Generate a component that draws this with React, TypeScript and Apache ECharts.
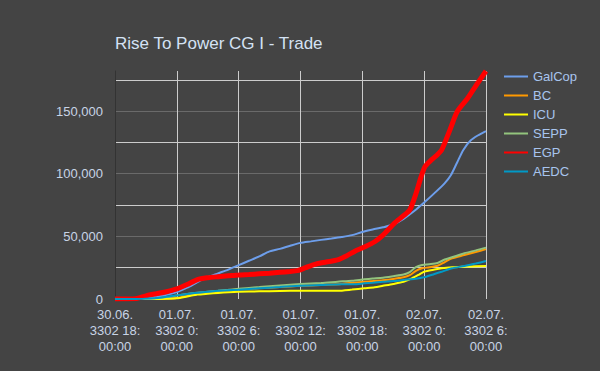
import React, { useEffect, useRef } from "react";
import * as echarts from "echarts";

const title = "Rise To Power CG I - Trade";
// x in hours since 30.06. 3302 18:00:00
const xTickLabels = [
  "30.06.\n3302 18:\n00:00",
  "01.07.\n3302 0:\n00:00",
  "01.07.\n3302 6:\n00:00",
  "01.07.\n3302 12:\n00:00",
  "01.07.\n3302 18:\n00:00",
  "02.07.\n3302 0:\n00:00",
  "02.07.\n3302 6:\n00:00",
];
const seriesNames = ["GalCop", "BC", "ICU", "SEPP", "EGP", "AEDC"];
const seriesColors = ["#6d9eeb", "#ff9900", "#ffff00", "#93c47d", "#ff0000", "#0099c6"];
const seriesWidths = [2, 2, 2, 2, 5, 2];

const galcop = [[0,0],[2,0],[3,700],[4,1800],[5,3300],[6,5500],[7,9000],[8,13500],[9,17500],[10,20500],[11,23500],[12,27000],[13,30500],[14,34000],[15,38000],[16,40000],[17,42500],[18,44800],[19,46000],[20,47200],[21,48300],[22,49500],[23,51000],[24,53500],[25,55500],[26,57200],[27,59500],[28,64000],[29,70000],[30,77000],[31,84500],[32,92500],[32.6,99000],[33.2,109000],[33.8,119000],[34.5,126500],[35.2,130500],[36,134000]];
const bc = [[0,0],[4,0],[5,300],[6,800],[7,2500],[8,4000],[9,5200],[10,6000],[11,6800],[12,7500],[14,8500],[16,9500],[18,10500],[20,11200],[22,12000],[23.2,13000],[24.2,13800],[25,14300],[26,15000],[27,16000],[28,17300],[28.6,19000],[29.2,22500],[29.8,24500],[30.5,25300],[31.3,26500],[32,29500],[32.7,32500],[33.9,35100],[35,37500],[36,39800]];
const icu = [[0,0],[4,0],[5,200],[6,600],[7,2000],[8,3500],[9,4200],[10,4800],[11,5400],[12,5800],[14,6100],[16,6400],[18,6600],[20,6600],[21.6,6600],[23,7500],[24.2,8500],[25.2,9300],[26,10500],[27,12000],[28,13800],[28.8,16500],[29.5,19500],[30,21800],[31,23500],[31.7,24500],[32.7,25300],[33.9,25800],[35,26200],[36,26300]];
const sepp = [[0,0],[3,0],[4,500],[5,1500],[6,2800],[7,4000],[8,5000],[9,5800],[10,6500],[11,7300],[12,8200],[14,9500],[16,10800],[18,12000],[20,12800],[21.6,13800],[23,14600],[24.2,15700],[25,16300],[26,17000],[27,18200],[28,19500],[28.6,21500],[29.2,25500],[29.8,27200],[30.5,27800],[31.3,28800],[32,31500],[32.7,33300],[33.9,36500],[35,38800],[36,41000]];
const egp = [[0,0],[2,300],[3,2500],[4,4200],[5,5800],[6,8000],[7,11500],[8,15500],[9,17000],[10,17800],[11,18500],[12,19200],[13,19600],[14,20100],[15,20600],[16,21300],[17,22000],[17.7,22600],[18.5,25000],[19.4,27700],[20.5,29500],[21.6,31200],[22.5,34500],[23.2,37800],[24.2,41500],[25.2,45700],[26,51000],[27.1,60400],[28,66500],[28.6,71000],[29.2,84000],[29.7,97500],[30.1,106000],[30.7,111000],[31.2,114500],[31.7,119000],[32.5,135000],[33.2,149500],[34.2,160000],[35,170000],[36,182000]];
const aedc = [[0,0],[2,0],[3,300],[4,800],[5,1800],[6,2900],[7,4000],[8,5000],[9,5800],[10,6500],[11,7000],[12,7300],[14,8500],[16,9500],[18,10600],[20,11200],[22,11800],[23.2,11700],[24.2,12500],[25,13000],[26,13700],[27,14300],[28,15200],[29,16000],[30,17300],[31,20000],[31.7,21800],[32.7,24500],[33.9,26300],[35,28300],[36,30300]];
const seriesData = [galcop, bc, icu, sepp, egp, aedc];

const FONT = "'Liberation Sans', Arial, sans-serif";

export default function App() {
  const ref = useRef<HTMLDivElement>(null);
  useEffect(() => {
    if (!ref.current) return;
    const chart = echarts.init(ref.current, null, { renderer: "svg" });
    chart.setOption({
      animation: false,
      backgroundColor: "#444444",
      title: {
        text: title,
        left: 110,
        top: 30,
        textStyle: { color: "#d4e2f4", fontSize: 17, fontWeight: "normal", fontFamily: FONT },
      },
      legend: {
        orient: "vertical",
        left: 498,
        top: 65,
        itemWidth: 24,
        itemHeight: 14,
        itemGap: 6,
        itemStyle: { color: "rgba(0,0,0,0)", borderWidth: 0, opacity: 0 },
        textStyle: { color: "#a8c4ee", fontSize: 13, fontFamily: FONT },
        data: seriesNames,
      },
      grid: { left: 115, right: 114, top: 71, bottom: 72 },
      xAxis: {
        type: "value",
        min: 0,
        max: 36,
        interval: 6,
        axisLine: { show: false },
        axisTick: { show: false },
        splitLine: { show: true, lineStyle: { color: "#cccccc", width: 1 } },
        axisLabel: {
          color: "#c8d4e6",
          fontSize: 13,
          fontFamily: FONT,
          lineHeight: 16,
          margin: 7,
          formatter: (v: number) => xTickLabels[Math.round(v / 6)] ?? "",
        },
      },
      yAxis: {
        type: "value",
        min: 0,
        max: 182000,
        interval: 25000,
        axisLine: { show: true, onZero: false, lineStyle: { color: "#333333", width: 1 } },
        axisTick: { show: false },
        splitLine: {
          show: true,
          showMinLine: false,
          showMaxLine: false,
          lineStyle: { color: ["#cccccc", "#6a6a6a"], width: 1 },
        },
        axisLabel: {
          color: "#c8d4e6",
          fontSize: 13,
          fontFamily: FONT,
          margin: 12,
          showMaxLabel: false,
          formatter: (v: number) => (v % 50000 === 0 ? v.toLocaleString("en-US") : ""),
        },
      },
      series: seriesNames.map((name, i) => ({
        name,
        type: "line",
        data: seriesData[i],
        symbol: "none",
        smooth: 0.25,
        color: seriesColors[i],
        lineStyle: { color: seriesColors[i], width: seriesWidths[i] },
      })),
    });
    return () => chart.dispose();
  }, []);
  return (
    <div
      ref={ref}
      style={{ position: "fixed", left: 0, top: 0, width: 600, height: 371 }}
    />
  );
}
